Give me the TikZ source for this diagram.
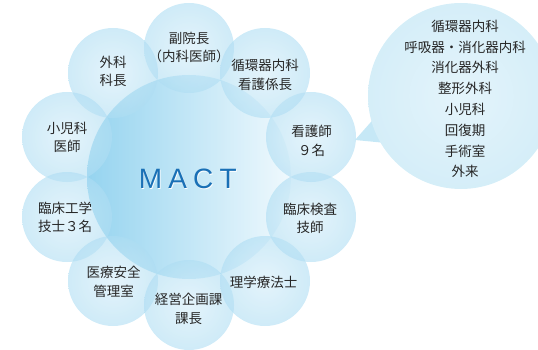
\documentclass[tikz,border=0pt]{standalone}
\usepackage{fontspec}
\setmainfont{Noto Sans CJK JP}
\newfontfamily\mactfont[LetterSpace=22]{Liberation Sans}
\definecolor{sin}{HTML}{D2ECF8}
\definecolor{smid}{HTML}{B0DEF3}
\definecolor{sout}{HTML}{68C1E8}
\definecolor{cenL}{HTML}{4FB7E5}
\definecolor{cenR}{HTML}{E6F5FC}
\definecolor{bin}{HTML}{E4F4FB}
\definecolor{bmid}{HTML}{D3EDF8}
\definecolor{bout}{HTML}{B6E1F4}
\definecolor{tailc}{HTML}{C6E8F6}
\definecolor{txt}{HTML}{262626}
\definecolor{mactblue}{HTML}{1A70B6}
\pgfdeclareradialshading{smallball}{\pgfpoint{0bp}{0bp}}{color(0bp)=(sin); color(24bp)=(smid); color(50bp)=(sout)}
\pgfdeclareradialshading{bubbleball}{\pgfpoint{0bp}{0bp}}{color(0bp)=(bin); color(28bp)=(bmid); color(50bp)=(bout)}
\begin{document}
\begin{tikzpicture}[x=1pt,y=-1pt,
  ball/.style={circle, minimum size=90pt, inner sep=0pt, draw=none, shading=smallball, fill opacity=0.6},
  lbl/.style={align=center, text=txt, inner sep=0pt, font=\fontsize{13.5}{18.5}\selectfont},
  blbl/.style={align=center, text=txt, inner sep=0pt, font=\fontsize{13.5}{20.8}\selectfont}]
\useasboundingbox (0,0) rectangle (538,350);
\clip (0,0) rectangle (538,350);
% central circle
\node[circle, minimum size=204pt, inner sep=0pt, draw=none, left color=cenL, right color=cenR, fill opacity=0.6] (mact) at (189,177) {};
% ring of small circles
\node[ball] (c1) at (189,48) {};
\node[ball] (c2) at (113,73) {};
\node[ball] (c3) at (67,137) {};
\node[ball] (c4) at (67,217) {};
\node[ball] (c5) at (113,281) {};
\node[ball] (c6) at (189,305) {};
\node[ball] (c7) at (265,281) {};
\node[ball] (c8) at (311,217) {};
\node[ball] (c9) at (311,137) {};
\node[ball] (c10) at (265,73) {};
% speech bubble
\coordinate (tip) at (355,140);
\node[circle, minimum size=186pt, inner sep=0pt, draw=none] (bub) at (461,96) {};
\fill[tailc] (tip) -- (378,114) -- (386,143) -- cycle;
\shade[shading=bubbleball] (bub.center) circle[radius=93pt];
% texts
\node[lbl] (t1) at (189,47.5) {副院長\\（内科医師）};
\node[lbl] (t2) at (113,71.5) {外科\\科長};
\node[lbl] (t3) at (67,137.5) {小児科\\医師};
\node[lbl] (t4) at (65,217.5) {臨床工学\\技士３名};
\node[lbl] (t5) at (113.5,282) {医療安全\\管理室};
\node[lbl] (t6) at (188.5,309) {経営企画課\\課長};
\node[lbl] (t7) at (263.5,282) {理学療法士};
\node[lbl] (t8) at (310,218.5) {臨床検査\\技師};
\node[lbl] (t9) at (311.5,141) {看護師\\９名};
\node[lbl] (t10) at (265,75) {循環器内科\\看護係長};
\node[blbl] (tb) at (465,99) {循環器内科\\呼吸器・消化器内科\\消化器外科\\整形外科\\小児科\\回復期\\手術室\\外来};
\node[inner sep=0pt, text=white, font=\mactfont\fontsize{28}{30}\selectfont] (macts) at (188.6,179.6) {MACT};
\node[inner sep=0pt, text=mactblue, font=\mactfont\fontsize{28}{30}\selectfont] (mactt) at (187.8,178.8) {MACT};
\end{tikzpicture}
\end{document}
